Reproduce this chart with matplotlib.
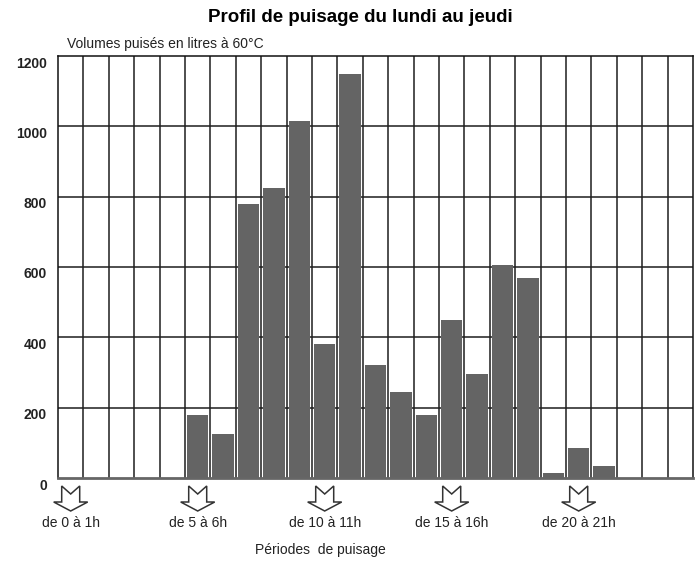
import matplotlib.pyplot as plt
import matplotlib.transforms as mtransforms
from matplotlib.patches import Polygon

# Volumes drawn per hour slot (litres at 60 C), slots 0..24
hours = list(range(25))
volumes = [0, 0, 0, 0, 0, 180, 125, 780, 825, 1015, 380, 1150,
           320, 245, 178, 450, 295, 605, 570, 15, 85, 35, 0, 0, 0]
yticks = [0, 200, 400, 600, 800, 1000, 1200]
arrow_slots = [0, 5, 10, 15, 20]
arrow_labels = ["de 0 à 1h", "de 5 à 6h", "de 10 à 11h", "de 15 à 16h", "de 20 à 21h"]

plt.rcParams['font.family'] = ['Liberation Sans', 'DejaVu Sans']

fig = plt.figure(figsize=(6.96, 5.62), dpi=100)
ax = fig.add_axes([58 / 696, 1 - 478 / 562, 635 / 696, 422 / 562])

# grid behind bars
for x in range(1, 25):
    ax.axvline(x, color='#1e1e1e', lw=1.1, zorder=1)
for y in yticks[1:-1]:
    ax.axhline(y, color='#1e1e1e', lw=1.1, zorder=1)

ax.bar([h + 0.5 for h in hours], volumes, width=0.84, color='#646464', zorder=2)

ax.set_xlim(0, 25)
ax.set_ylim(0, 1200)
ax.set_xticks([])
ax.set_yticks(yticks)
ax.tick_params(axis='y', length=0, pad=8, labelsize=10)
offset = mtransforms.ScaledTranslation(0, -6 / 100, fig.dpi_scale_trans)
for lab in ax.get_yticklabels():
    lab.set_transform(lab.get_transform() + offset)
    lab.set_fontweight('bold')
    lab.set_color('#222222')

for s in ['top', 'right', 'left']:
    ax.spines[s].set_color('#111111')
    ax.spines[s].set_linewidth(1.1)
ax.spines['bottom'].set_color('#666666')
ax.spines['bottom'].set_linewidth(2)

# hollow arrows under the axis
h_ax = 422.0
col = 635 / 25.0
trans = mtransforms.blended_transform_factory(ax.transData, ax.transAxes)
shape = [(-9, 8), (0, 16), (9, 8), (9, 24), (17, 24), (0, 33), (-17, 24), (-9, 24)]
for slot, label in zip(arrow_slots, arrow_labels):
    cx = slot + 0.5
    pts = [(cx + dx / col, -dy / h_ax) for dx, dy in shape]
    ax.add_patch(Polygon(pts, closed=True, facecolor='white', edgecolor='#333333',
                         lw=1.1, transform=trans, clip_on=False, zorder=3))
    ax.text(cx, -45 / h_ax, label, transform=trans, ha='center', va='center',
            fontsize=10, color='#222222')

fig.text(67 / 696, 1 - 44 / 562, "Volumes puisés en litres à 60°C", ha='left',
         va='center', fontsize=10, color='#222222')
fig.text(360 / 696, 1 - 18 / 562, "Profil de puisage du lundi au jeudi", ha='center',
         va='center', fontsize=13.5, fontweight='bold')
fig.text(320 / 696, 1 - 550 / 562, "Périodes  de puisage", ha='center', va='center',
         fontsize=10, color='#222222')

fig.savefig('out.png', dpi=100)
